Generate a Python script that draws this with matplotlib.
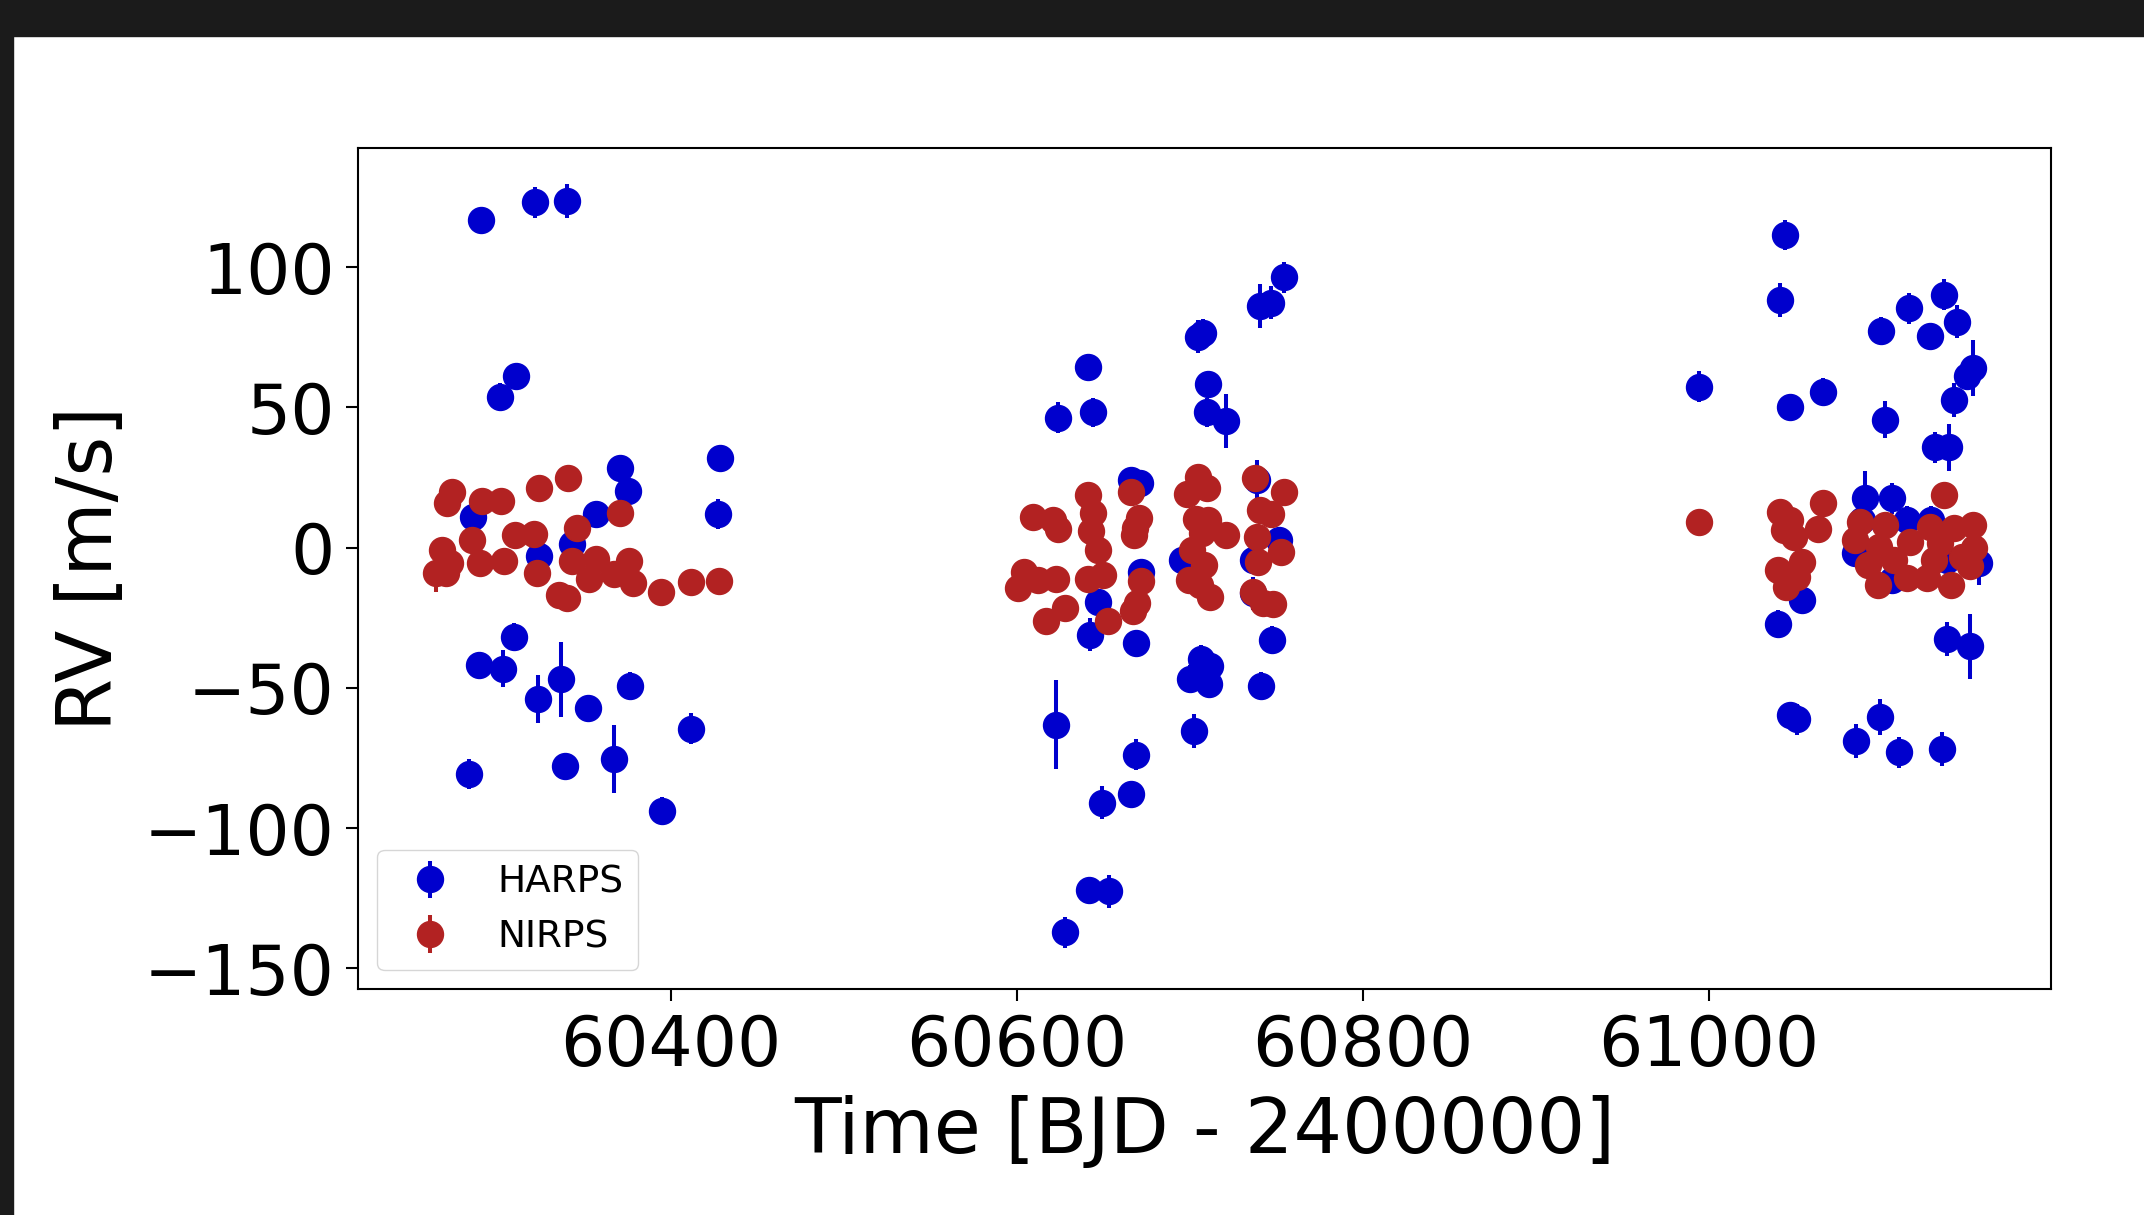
import matplotlib
matplotlib.use("Agg")
import matplotlib.pyplot as plt
from matplotlib.patches import Rectangle

# HARPS radial velocities
harps_t = [60283.4, 60285.5, 60289.0, 60290.5, 60301.6, 60303.0, 60309.5, 60310.3,
           60321.3, 60323.0, 60323.9, 60336.4, 60338.7, 60340.3, 60342.9, 60352.0,
           60356.8, 60367.0, 60370.7, 60375.5, 60376.7, 60395.0, 60411.5, 60427.5,
           60428.5,
           60622.5, 60623.9, 60628.0, 60640.9, 60641.5, 60642.3, 60644.0, 60647.0,
           60649.4, 60653.4, 60666.0, 60666.1, 60669.2, 60669.2, 60671.3, 60671.7,
           60695.4, 60700.0, 60702.4, 60704.7, 60706.3, 60707.9, 60709.7, 60710.6,
           60711.0, 60711.9, 60720.9, 60736.8, 60736.8, 60738.8, 60740.7, 60741.1,
           60746.9, 60747.4, 60751.4, 60754.6,
           60994.1, 61040.0, 61041.2, 61044.1, 61047.1, 61047.2, 61051.0, 61054.1,
           61065.8, 61084.7, 61084.9, 61088.6, 61090.1, 61098.8, 61099.8, 61101.9,
           61105.9, 61105.9, 61109.8, 61114.6, 61115.8, 61127.9, 61128.7, 61130.6,
           61134.9, 61135.8, 61137.8, 61137.8, 61138.7, 61141.6, 61143.7, 61149.3,
           61150.8, 61152.8, 61156.0]
harps_rv = [-80.7, 10.8, -41.7, 116.8, 53.8, -43.1, -31.9, 61.2,
            123.1, -53.9, -2.8, -47.0, -78.0, 123.6, 1.2, -57.3,
            12.0, -75.3, 28.3, 20.3, -49.5, -93.9, -64.6, 12.0,
            31.9,
            -63.1, 46.3, -137.2, 64.6, -122.2, -31.0, 48.2, -19.3,
            -90.9, -122.6, -87.9, 24.1, -73.8, -33.9, 23.2, -8.6,
            -4.4, -47.0, -65.5, 75.3, -39.7, 76.5, 48.2, 58.5,
            -48.5, -42.1, 45.2, -4.4, -16.3, 24.1, 86.2, -49.4,
            87.4, -32.9, 2.7, 96.4,
            57.4, -27.2, 88.3, 111.5, -59.7, 50.3, -61.2, -18.7,
            55.6, -2.0, -68.9, 9.9, 17.8, -60.3, 77.3, 45.7,
            17.6, -11.5, -73.0, 9.9, 85.4, 75.6, 9.9, 35.8,
            -71.9, 90.2, -32.6, -4.4, 35.8, 52.7, 80.6, 61.2,
            -35.1, 64.0, -5.3]
harps_err = [5.5, 4.5, 4.5, 4.5, 5.0, 6.5, 5.0, 4.0,
             5.5, 8.6, 4.0, 13.5, 4.0, 6.0, 4.0, 4.0,
             4.0, 12.2, 4.0, 4.0, 5.0, 5.0, 5.5, 5.5,
             4.5,
             16.0, 5.5, 5.5, 4.5, 4.5, 6.0, 5.0, 4.0,
             6.0, 6.0, 4.0, 4.0, 5.5, 4.0, 4.0, 4.0,
             4.0, 5.0, 6.0, 6.0, 5.0, 5.0, 5.0, 4.0,
             4.0, 4.0, 9.7, 5.0, 6.0, 7.0, 7.7, 5.0,
             6.0, 5.0, 4.0, 5.5,
             5.5, 5.0, 6.0, 5.5, 4.0, 4.0, 5.5, 4.0,
             5.0, 5.0, 6.0, 4.5, 9.6, 6.5, 5.0, 6.5,
             5.5, 5.0, 5.5, 5.0, 5.5, 4.0, 5.0, 5.5,
             6.0, 5.5, 6.0, 5.0, 8.4, 6.0, 6.0, 5.0,
             11.6, 9.9, 8.0]

# NIRPS radial velocities
nirps_t = [60264.3, 60267.6, 60270.1, 60270.8, 60272.4, 60273.7, 60284.9, 60289.7,
           60290.9, 60301.7, 60303.6, 60309.8, 60320.9, 60322.9, 60323.7, 60335.5,
           60340.0, 60340.6, 60342.9, 60345.7, 60352.6, 60356.6, 60367.4, 60370.7,
           60375.7, 60378.0, 60394.6, 60411.7, 60428.1,
           60601.0, 60603.9, 60609.6, 60612.0, 60617.0, 60620.9, 60622.8, 60624.1,
           60628.0, 60640.9, 60641.4, 60642.8, 60644.0, 60646.9, 60650.1, 60653.0,
           60666.0, 60667.1, 60667.5, 60668.4, 60669.4, 60670.9, 60671.7,
           60698.3, 60699.3, 60701.2, 60703.7, 60704.9, 60706.0, 60707.0, 60708.3,
           60709.9, 60710.8, 60711.8, 60720.9,
           60736.8, 60737.8, 60738.8, 60739.7, 60740.7, 60742.6, 60746.9, 60748.0,
           60752.7, 60754.6,
           60994.1, 61039.8, 61041.0, 61043.7, 61044.8, 61047.2, 61049.1, 61051.0,
           61053.9, 61062.9, 61065.8, 61084.7, 61087.6, 61091.8, 61097.8, 61098.2,
           61102.1, 61106.8, 61114.6, 61116.5, 61126.2, 61128.1, 61130.0, 61133.9,
           61135.8, 61140.0, 61141.6, 61146.4, 61150.8, 61152.8, 61153.1]
nirps_rv = [-8.9, -0.8, -8.9, 15.8, -5.3, 19.7, 2.7, -5.3,
            16.5, 16.7, -4.6, 4.4, 4.8, -9.1, 21.4, -17.0,
            -17.8, 24.7, -4.6, 7.0, -11.3, -4.0, -9.5, 12.5,
            -4.6, -12.5, -15.7, -12.1, -11.8,
            -14.3, -8.6, 10.8, -11.5, -26.0, 9.9, -11.3, 6.5,
            -21.6, 18.8, -11.3, 6.1, 12.3, -0.8, -9.7, -26.0,
            20.0, -22.5, 4.5, 6.9, -19.8, 10.5, -11.9,
            19.2, -11.5, -0.8, 10.1, 25.1, -13.3, 5.1, -6.2,
            21.2, 9.9, -17.7, 4.5,
            -15.7, 24.7, 3.9, -5.0, 13.4, -19.8, 12.0, -20.1,
            -1.4, 19.8,
            9.3, -8.0, 12.8, 6.3, -14.1, 9.9, 3.7, -10.3,
            -5.0, 6.7, 16.0, 2.7, 9.3, -6.2, -13.3, 0.4,
            8.1, -4.4, -10.9, 2.1, -10.9, 7.5, -4.4, 1.6,
            18.8, -13.3, 6.9, -3.2, -6.5, 8.1, -0.2]
nirps_err = [6.8] + [3.0] * (len(nirps_t) - 1)

fig = plt.figure(figsize=(21.44, 12.15), dpi=100)
ax = fig.add_axes([0.1671, 0.1860, 0.7897, 0.6919])

ax.errorbar(harps_t, harps_rv, yerr=harps_err, fmt="o", color="mediumblue",
            ms=18.7, elinewidth=2.9, capsize=0, label="HARPS")
ax.errorbar(nirps_t, nirps_rv, yerr=nirps_err, fmt="o", color="firebrick",
            ms=18.7, elinewidth=2.9, capsize=0, label="NIRPS")

ax.set_xlim(60219.4, 61198.0)
ax.set_ylim(-157.4, 142.4)
ax.set_xticks([60400, 60600, 60800, 61000])
ax.set_yticks([-150, -100, -50, 0, 50, 100])
ax.tick_params(labelsize=50, length=8.5, width=1.5, pad=8.5)
for s in ax.spines.values():
    s.set_linewidth(1.5)

ax.set_xlabel("Time [BJD - 2400000]", fontsize=55, labelpad=11)
ax.set_ylabel("RV [m/s]", fontsize=55, labelpad=11)
ax.legend(loc="lower left", fontsize=27)

# dark screenshot border
fig.add_artist(Rectangle((0, 1 - 36 / 1215), 1, 36 / 1215, transform=fig.transFigure,
                         color="#1b1b1b", zorder=10))
fig.add_artist(Rectangle((0, 0), 13 / 2144, 1, transform=fig.transFigure,
                         color="#1b1b1b", zorder=10))

fig.savefig("out.png", dpi=100)
